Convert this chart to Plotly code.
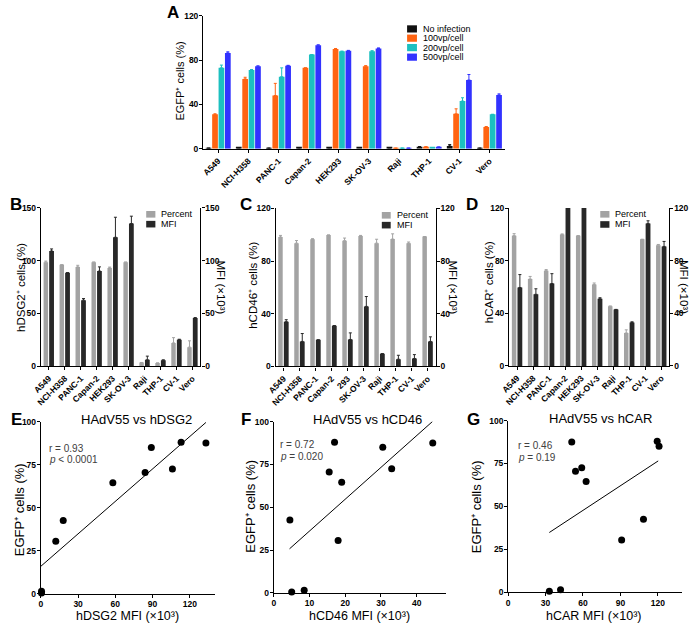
import plotly.graph_objects as go

W, H = 696, 630


def fx(p):
    return p / W


def fy(p):
    return 1 - p / H


# ---------------- data ----------------
cell_lines = ["A549", "NCI-H358", "PANC-1", "Capan-2", "HEK293", "SK-OV-3", "Raji", "THP-1", "CV-1", "Vero"]
cell_lines_c = ["A549", "NCI-H358", "PANC-1", "Capan-2", "293", "SK-OV-3", "Raji", "THP-1", "CV-1", "Vero"]

# Panel A: EGFP+ cells (%)
no_inf = [0.5, 0.8, 0.5, 0.8, 0.8, 1.0, 0.8, 1.8, 2.5, 0.5]
no_inf_err = [0, 0, 0, 0, 0, 0, 0, 0, 1.2, 0]
vp100 = [31, 63, 48, 73, 90, 74.5, 0.5, 1.8, 31.5, 19.5]
vp100_err = [0.5, 1.5, 11, 0, 0.5, 0.5, 0, 0, 4.5, 0.5]
vp200 = [73, 71, 65, 85, 88, 88, 0.5, 1.0, 43, 31]
vp200_err = [2.5, 0.5, 8, 0, 0, 0.5, 0, 0, 3, 0]
vp500 = [86.5, 74.5, 75, 93.5, 88.5, 90.5, 0.5, 1.5, 62, 48.5]
vp500_err = [1, 0.3, 0.3, 0.3, 0.3, 0.5, 0, 0, 5, 1]
a_names = ["No infection", "100vp/cell", "200vp/cell", "500vp/cell"]

# Panel B: hDSG2
b_pct = [98.5, 96, 94, 98.5, 93, 98.5, 3.5, 3, 22, 18]
b_pct_err = [1, 0, 1.5, 0, 0.8, 0, 0, 0, 5, 6]
b_mfi = [109, 88.5, 62.5, 90, 122, 135, 6, 5.5, 25, 45.5]
b_mfi_err = [2, 0, 1.5, 4, 19, 7, 3.5, 0.5, 0.5, 0.5]

# Panel C: hCD46
c_pct = [98.3, 93.6, 96.5, 99.8, 95.5, 99, 93.6, 96.7, 93.5, 98.6]
c_pct_err = [1.2, 2, 0.5, 0, 2, 0.5, 3, 4, 1, 0]
c_mfi = [34, 19, 20.2, 31, 20.5, 45.6, 9.7, 5.5, 6, 19]
c_mfi_err = [1.5, 6, 0, 0, 5, 7.5, 0, 3, 3, 3.5]

# Panel D: hCAR
d_pct = [99, 66, 72.4, 99.8, 99, 61.8, 45.4, 25, 96.2, 91.8]
d_pct_err = [1.5, 2, 0.8, 0.5, 0, 1.2, 0, 2.4, 0, 0.5]
d_mfi = [59.6, 54.4, 62.6, 120, 120, 51, 42.9, 33, 108.3, 90.8]
d_mfi_err = [9.8, 4.2, 7.5, 0, 0, 0.8, 0, 0.5, 2, 3.8]

# Panels E-G: correlation (EGFP+ at 200vp/cell vs receptor MFI)
egfp = [72.5, 70.5, 64.5, 85, 88, 87.5, 1.5, 0.5, 42.5, 30.5]
e_x = [106, 84, 58, 89, 113, 133, 0.5, 0.5, 18, 12]
f_x = [33, 15.5, 19, 30.5, 17, 44.5, 8.5, 5, 4.5, 18]
g_x = [59, 54, 62.5, 121, 119.5, 51, 42, 33, 108.5, 91]
e_fit_x, e_fit_y = [0, 133], [16, 99.5]
f_fit_x, f_fit_y = [4.4, 44.4], [25.7, 100]
g_fit_x, g_fit_y = [33, 120.3], [34.8, 76.5]
e_stats = ["r = 0.93", "<i>p</i> < 0.0001"]
f_stats = ["r = 0.72", "<i>p</i> = 0.020"]
g_stats = ["r = 0.46", "<i>p</i> = 0.19"]

# ---------------- styles ----------------
FONT = "Arial"
A_COLORS = ["#111111", "#ff6412", "#1cc0c0", "#3232ff"]
GRAY, DARK = "#a3a3a3", "#282828"
tick_font = dict(family=FONT, size=8.5, color="black", weight="bold")
cat_tick_font = dict(family=FONT, size=8.5, color="black", weight="bold")

fig = go.Figure()


def err(arr, col):
    return dict(type="data", array=arr, arrayminus=[0] * len(arr), symmetric=False,
                color=col, thickness=1, width=1.5)


# Panel A bars
slot = 0.85 / 4
bw = 0.19
for k, (name, vals, errs) in enumerate(zip(a_names, [no_inf, vp100, vp200, vp500],
                                             [no_inf_err, vp100_err, vp200_err, vp500_err])):
    fig.add_trace(go.Bar(x=cell_lines, y=vals, name=name, width=bw,
                         offset=-0.425 + k * slot + (slot - bw) / 2,
                         marker=dict(color=A_COLORS[k], line=dict(width=0)),
                         error_y=err(errs, A_COLORS[k]),
                         xaxis="x", yaxis="y", showlegend=False))

# Panels B-D bars
panels_bar = [
    (cell_lines, b_pct, b_pct_err, b_mfi, b_mfi_err, "x2", "y2", "y3"),
    (cell_lines_c, c_pct, c_pct_err, c_mfi, c_mfi_err, "x3", "y4", "y5"),
    (cell_lines, d_pct, d_pct_err, d_mfi, d_mfi_err, "x4", "y6", "y7"),
]
for cats, pct, pe, mfi, me, xa, yl, yr in panels_bar:
    fig.add_trace(go.Bar(x=cats, y=pct, name="Percent", width=0.28, offset=-0.33,
                         marker=dict(color=GRAY, line=dict(width=0)), error_y=err(pe, GRAY),
                         xaxis=xa, yaxis=yl, showlegend=False))
    fig.add_trace(go.Bar(x=cats, y=mfi, name="MFI", width=0.30, offset=0.02,
                         marker=dict(color=DARK, line=dict(width=0)), error_y=err(me, DARK),
                         xaxis=xa, yaxis=yr, showlegend=False))

# Panels E-G scatter
for xs, fxs, fys, xa, ya in [(e_x, e_fit_x, e_fit_y, "x5", "y8"),
                             (f_x, f_fit_x, f_fit_y, "x6", "y9"),
                             (g_x, g_fit_x, g_fit_y, "x7", "y10")]:
    fig.add_trace(go.Scatter(x=fxs, y=fys, mode="lines", line=dict(color="black", width=1),
                             xaxis=xa, yaxis=ya, showlegend=False, hoverinfo="skip"))
    fig.add_trace(go.Scatter(x=xs, y=egfp, mode="markers", marker=dict(color="black", size=7),
                             cliponaxis=False, xaxis=xa, yaxis=ya, showlegend=False))

# ---------------- axes ----------------
base = dict(showline=True, linecolor="black", linewidth=1.2, ticks="outside", ticklen=3,
            tickwidth=1.2, tickcolor="black", showgrid=False, zeroline=False, tickfont=tick_font,
            ticklabelstandoff=-1)
cat_axis = dict(base, type="category", range=[-0.5, 9.5], tickangle=-45, ticklen=3,
                tickfont=cat_tick_font, ticklabelstandoff=0)


def dom(x0, x1):
    return [fx(x0), fx(x1)]


def domy(top, bottom):
    return [fy(bottom), fy(top)]


layout_axes = dict(
    xaxis=dict(cat_axis, domain=dom(196.7, 502), anchor="y"),
    yaxis=dict(base, domain=domy(11, 146), range=[0, 120], tickvals=[0, 40, 80, 120], anchor="x"),
    xaxis2=dict(cat_axis, domain=dom(32.3, 194), anchor="y2"),
    yaxis2=dict(base, domain=domy(206, 367), range=[0, 150], tickvals=[0, 50, 100, 150], anchor="x2"),
    yaxis3=dict(base, range=[0, 150], tickvals=[0, 50, 100, 150], overlaying="y2", side="right", anchor="x2"),
    xaxis3=dict(cat_axis, domain=dom(270, 432.3), anchor="y4"),
    yaxis4=dict(base, domain=domy(206.7, 367.3), range=[0, 120], tickvals=[0, 40, 80, 120], anchor="x3"),
    yaxis5=dict(base, range=[0, 120], tickvals=[0, 40, 80, 120], overlaying="y4", side="right", anchor="x3"),
    xaxis4=dict(cat_axis, domain=dom(506.7, 669), anchor="y6"),
    yaxis6=dict(base, domain=domy(206.3, 366.7), range=[0, 120], tickvals=[0, 40, 80, 120], anchor="x4"),
    yaxis7=dict(base, range=[0, 120], tickvals=[0, 40, 80, 120], overlaying="y6", side="right", anchor="x4"),
    xaxis5=dict(base, domain=dom(32.3, 208.3), range=[0, 140], tickvals=[0, 30, 60, 90, 120], anchor="y8"),
    yaxis8=dict(base, domain=domy(423.3, 598.3), range=[0, 100], tickvals=[0, 25, 50, 75, 100], anchor="x5"),
    xaxis6=dict(base, domain=dom(268.3, 442.7), range=[0, 48.2], tickvals=[0, 10, 20, 30, 40], anchor="y9"),
    yaxis9=dict(base, domain=domy(423.3, 597.3), range=[0, 100], tickvals=[0, 25, 50, 75, 100], anchor="x6"),
    xaxis7=dict(base, domain=dom(505.7, 681.7), range=[0, 139.3], tickvals=[0, 30, 60, 90, 120], anchor="y10"),
    yaxis10=dict(base, domain=domy(422.3, 596.7), range=[0, 100], tickvals=[0, 25, 50, 75, 100], anchor="x7"),
)

# ---------------- annotations ----------------
ann = []


def text(x, y, s, size=11, angle=0, xanchor="center", yanchor="middle", bold=False, color="black"):
    ann.append(dict(x=fx(x), y=fy(y), xref="paper", yref="paper", text=s, showarrow=False,
                    textangle=angle, xanchor=xanchor, yanchor=yanchor, borderpad=0,
                    font=dict(family=FONT, size=size, color=color, weight="bold" if bold else "normal")))


# panel letters
for lab, x, y in [("A", 166, 8), ("B", 7.5, 202.5), ("C", 240, 202.5), ("D", 469, 202.5),
                  ("E", 8, 421.5), ("F", 240, 421.5), ("G", 471, 421)]:
    text(x, y, lab, size=17, bold=True)

# axis titles
text(173, 77, "EGFP⁺ cells (%)", size=11, angle=-90)
text(12, 286.7, "hDSG2⁺ cells (%)", size=11.5, angle=-90)
text(214.5, 286.7, "MFI (×10³)", size=11.5, angle=90)
text(247.5, 285, "hCD46⁺ cells (%)", size=11.5, angle=-90)
text(449.5, 286.7, "MFI (×10³)", size=11.5, angle=90)
text(486, 282, "hCAR⁺ cells (%)", size=11.5, angle=-90)
text(684, 286.7, "MFI (×10³)", size=11.5, angle=90)

text(11.5, 513, "EGFP⁺ cells (%)", size=13, angle=-90)
text(244.5, 509.5, "EGFP⁺ cells (%)", size=13, angle=-90)
text(474.5, 510, "EGFP⁺ cells (%)", size=13, angle=-90)
text(120, 621, "hDSG2 MFI (×10³)", size=12.5)
text(355, 621, "hCD46 MFI (×10³)", size=12.5)
text(593, 621, "hCAR MFI (×10³)", size=12.5)

# scatter titles
text(129.5, 421, "HAdV55 vs hDSG2", size=13)
text(363.5, 420.7, "HAdV55 vs hCD46", size=13)
text(599, 420, "HAdV55 vs hCAR", size=13)

# stats
for stats, x, y1, y2 in [(e_stats, 40, 450.5, 462), (f_stats, 273.7, 446.8, 458.3),
                         (g_stats, 514.3, 447.5, 459.5)]:
    text(x, y1, stats[0], size=10, xanchor="left", color="#404040")
    text(x, y2, stats[1], size=10, xanchor="left", color="#404040")

# legends (manual, compact like the original)
shapes = []


def legend(x_sq, y_centers, labels, colors, x_txt, sq_w=10, sq_h=7.3):
    for yc, lab, col in zip(y_centers, labels, colors):
        shapes.append(dict(type="rect", xref="paper", yref="paper",
                           x0=fx(x_sq), x1=fx(x_sq + sq_w), y0=fy(yc + sq_h / 2), y1=fy(yc - sq_h / 2),
                           fillcolor=col, line=dict(width=0)))
        text(x_txt, yc, lab, size=9, xanchor="left")


legend(403.3, [24.3, 33.7, 43.3, 53], a_names, A_COLORS, 418.5)
legend(139, [212.7, 222.7], ["Percent", "MFI"], [GRAY, DARK], 152.7, sq_w=9.3, sq_h=6.7)
legend(377.7, [213.7, 223.7], ["Percent", "MFI"], [GRAY, DARK], 391.7, sq_w=9, sq_h=6.7)
legend(599, [212.7, 223], ["Percent", "MFI"], [GRAY, DARK], 612.7, sq_w=9.3, sq_h=6.7)

fig.update_layout(
    width=W, height=H, margin=dict(l=0, r=0, t=0, b=0),
    paper_bgcolor="white", plot_bgcolor="white",
    barmode="overlay", showlegend=False,
    font=dict(family=FONT, color="black"),
    annotations=ann, shapes=shapes,
    **layout_axes,
)

fig.write_html(
    "out.html",
    config={"displayModeBar": False},
    post_script="document.body.style.margin='0';document.body.style.padding='0';"
                "document.documentElement.style.overflow='hidden';",
)
